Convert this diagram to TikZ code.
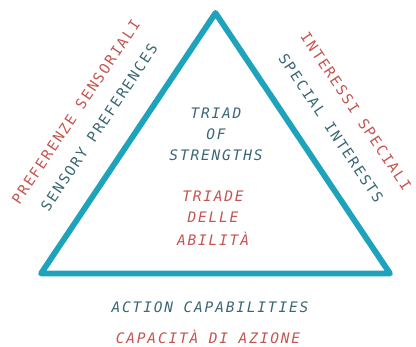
\documentclass[tikz,border=0pt]{standalone}
\usepackage{fontspec}
\usetikzlibrary{calc}
\newfontfamily\diagfont[LetterSpace=12.5]{DejaVu Sans Mono}
\definecolor{edgeteal}{HTML}{1FA3BD}
\definecolor{textblue}{HTML}{3A6775}
\definecolor{textred}{HTML}{C4554F}
\begin{document}
\begin{tikzpicture}[x=1pt,y=1pt,
  lbl/.style={font=\diagfont\fontsize{14.5}{14.5}\selectfont, inner sep=0pt, anchor=center},
  lblit/.style={lbl, font=\diagfont\itshape\fontsize{14.5}{14.5}\selectfont},
  bluetxt/.style={text=textblue},
  redtxt/.style={text=textred}]
\useasboundingbox (0,0) rectangle (416,347);
\coordinate (apex) at (215.5,334);
\coordinate (bl) at (41,73.5);
\coordinate (br) at (390,73.5);
\draw[edgeteal, line width=5.8pt, line join=round] (apex) -- (bl) -- (br) -- cycle;
% centre
\node[lblit,bluetxt] (t1) at (216,234) {TRIAD};
\node[lblit,bluetxt] (t2) at (216,213) {OF};
\node[lblit,bluetxt] (t3) at (216,192) {STRENGTHS};
\node[lblit,redtxt] (t4) at (213,151) {TRIADE};
\node[lblit,redtxt] (t5) at (213,130) {DELLE};
\node[lblit,redtxt] (t6) at (213,108) {ABILITÀ};
% bottom
\node[lblit,bluetxt] (b1) at (210,40) {ACTION CAPABILITIES};
\node[lblit,redtxt] (b2) at (208,10) {CAPACITÀ DI AZIONE};
% left side
\path (bl) -- (apex) coordinate[pos=0.49] (lmid);
\node[lbl,bluetxt,rotate=56.18] (l1) at ($(lmid)+(-0.8307*33,0.5565*33)$) {SENSORY PREFERENCES};
\node[lbl,redtxt,rotate=56.18] (l2) at ($(lmid)+(-0.8307*61,0.5565*61)$) {PREFERENZE SENSORIALI};
% right side
\path (apex) -- (br) coordinate[pos=0.51] (rmid);
\node[lbl,bluetxt,rotate=-56.18] (r1) at ($(rmid)+(0.8307*32,0.5565*32)$) {SPECIAL INTERESTS};
\node[lbl,redtxt,rotate=-56.18] (r2) at ($(rmid)+(0.8307*62,0.5565*62)$) {INTERESSI SPECIALI};
\end{tikzpicture}
\end{document}
